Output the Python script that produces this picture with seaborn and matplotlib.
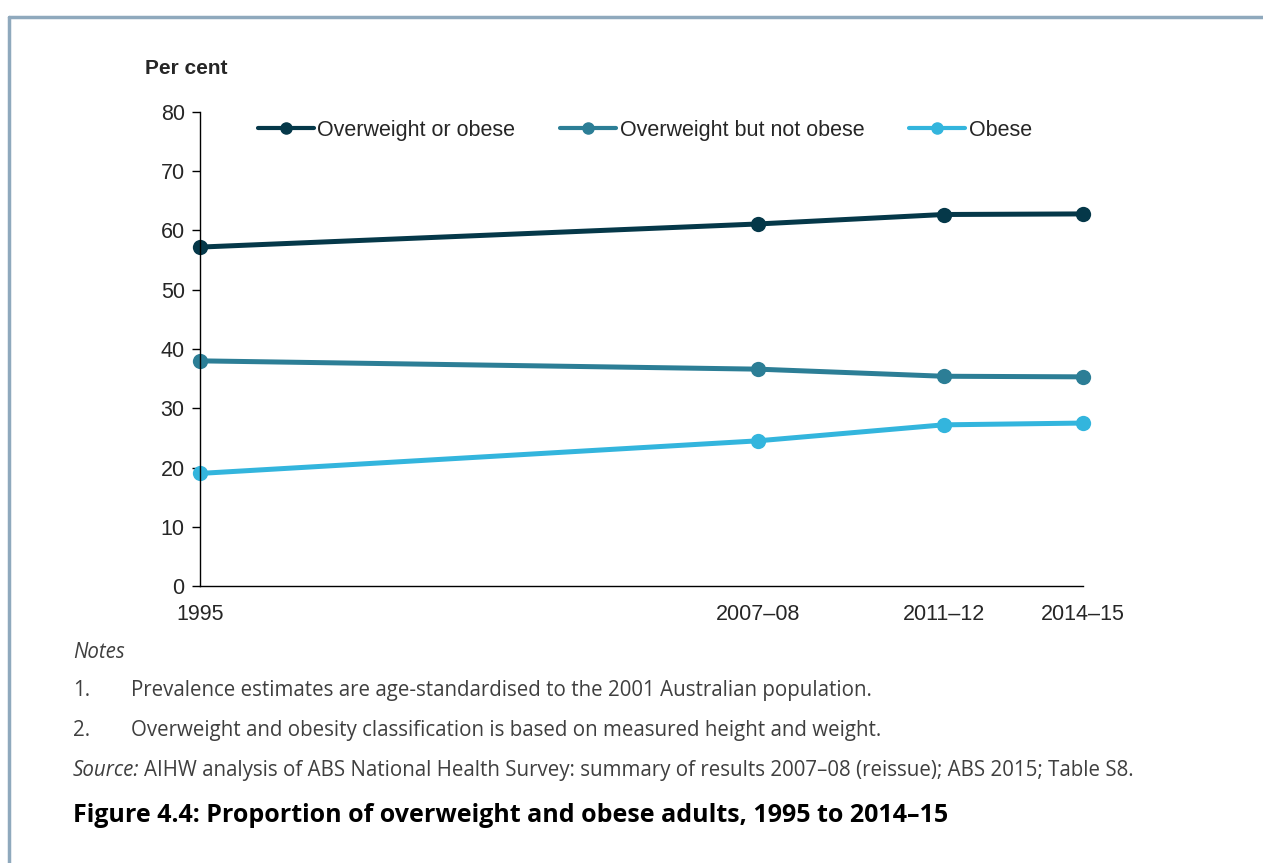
import pandas as pd
import matplotlib
matplotlib.use('Agg')
import matplotlib.pyplot as plt
import seaborn as sns
from matplotlib.lines import Line2D

# Survey years (numeric position) and labels
years = [1995, 2007, 2011, 2014]
year_labels = ['1995', '2007–08', '2011–12', '2014–15']

# Per cent of adults
overweight_or_obese = [57.2, 61.1, 62.7, 62.8]
overweight_not_obese = [38.0, 36.6, 35.4, 35.3]
obese = [19.0, 24.5, 27.2, 27.5]

series_names = ['Overweight or obese', 'Overweight but not obese', 'Obese']
colours = ['#053849', '#2c7e96', '#33b5dd']

df = pd.DataFrame({
    'Year': years * 3,
    'Per cent': overweight_or_obese + overweight_not_obese + obese,
    'Group': [n for n in series_names for _ in years],
})

sns.set_style('white')
plt.rcParams['font.family'] = ['Liberation Sans', 'DejaVu Sans']

W, H = 1263, 863
fig = plt.figure(figsize=(W / 100, H / 100), dpi=100)
ax = fig.add_axes([200 / W, 1 - 586 / H, 883 / W, 474 / H])

sns.lineplot(data=df, x='Year', y='Per cent', hue='Group', palette=colours,
             hue_order=series_names, marker='o', markersize=11, linewidth=3.6,
             markeredgewidth=0, legend=False, ax=ax)

ax.set_xlim(1995, 2014)
ax.set_ylim(0, 80)
ax.set_yticks(range(0, 81, 10))
ax.set_xticks(years)
ax.set_xticklabels(year_labels)
ax.set_xlabel('')
ax.set_ylabel('')
for c in ax.lines:
    c.set_clip_on(False)

for side in ['top', 'right']:
    ax.spines[side].set_visible(False)
for side in ['left', 'bottom']:
    ax.spines[side].set_color('black')
    ax.spines[side].set_linewidth(1.0)
ax.tick_params(axis='y', length=6, width=1, color='black', labelsize=15.5, pad=5, left=True)
ax.tick_params(axis='x', length=0, labelsize=15.5, pad=13)

handles = [Line2D([0], [0], color=c, lw=3, marker='o', markersize=8) for c in colours]
ax.legend(handles, series_names, loc='center left', bbox_to_anchor=(0.0657, 0.962),
          ncol=3, frameon=False, fontsize=15.5, handlelength=2.6, handletextpad=0.15,
          columnspacing=2.1, borderaxespad=0, borderpad=0)

fig.text(145 / W, 1 - 68 / H, 'Per cent', fontsize=15, fontweight='bold', va='center')

# notes and caption
note_font = ['Open Sans', 'DejaVu Sans']
grey = '#3f3f3f'
nfs = 14.8
fig.text(73 / W, 1 - 652 / H, 'Notes', family=note_font, style='italic',
         fontsize=nfs, color=grey, va='center')
fig.text(73 / W, 1 - 690 / H, '1.', family=note_font, fontsize=nfs, color=grey, va='center')
fig.text(131 / W, 1 - 690 / H,
         'Prevalence estimates are age-standardised to the 2001 Australian population.',
         family=note_font, fontsize=nfs, color=grey, va='center')
fig.text(73 / W, 1 - 730 / H, '2.', family=note_font, fontsize=nfs, color=grey, va='center')
fig.text(131 / W, 1 - 730 / H,
         'Overweight and obesity classification is based on measured height and weight.',
         family=note_font, fontsize=nfs, color=grey, va='center')
src = fig.text(73 / W, 1 - 770 / H, 'Source:', family=note_font, style='italic',
               fontsize=nfs, color=grey, va='center')
renderer = fig.canvas.get_renderer()
src_end = src.get_window_extent(renderer).x1
fig.text((src_end + 5) / W, 1 - 770 / H,
         'AIHW analysis of ABS National Health Survey: summary of results 2007–08 (reissue); ABS 2015; Table S8.',
         family=note_font, fontsize=nfs, color=grey, va='center')
fig.text(73 / W, 1 - 815 / H,
         'Figure 4.4: Proportion of overweight and obese adults, 1995 to 2014–15',
         family=note_font, fontweight='bold', fontsize=18, color='black', va='center')

# box border on the top and left
border = '#8fa9bd'
fig.add_artist(Line2D([9 / W, 1], [1 - 17 / H, 1 - 17 / H], color=border, lw=2.5,
                      transform=fig.transFigure))
fig.add_artist(Line2D([9 / W, 9 / W], [0, 1 - 17 / H], color=border, lw=2.5,
                      transform=fig.transFigure))

fig.savefig('out.png', dpi=100)
